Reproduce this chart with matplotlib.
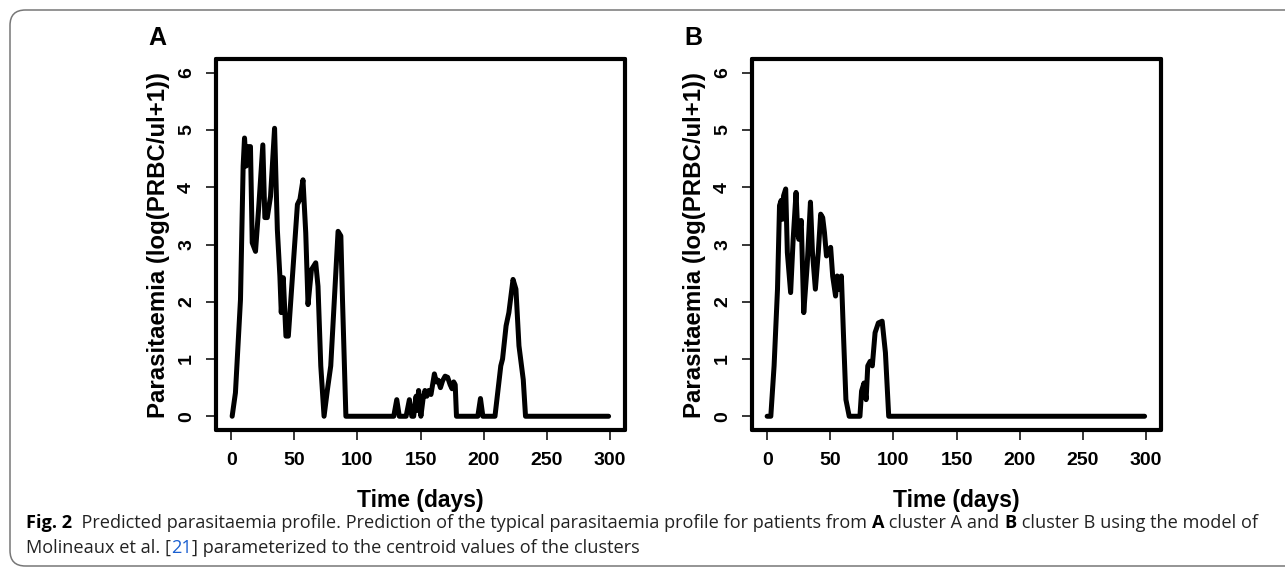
import numpy as np
import matplotlib
matplotlib.use("Agg")
import matplotlib.pyplot as plt
from matplotlib.patches import FancyBboxPatch

# -------------------- Data -------------------- #
# Panel A: cluster A, days vs log(PRBC/ul+1)
days_a = [0.8, 3.4, 7.4, 9.5, 10.6, 11.9, 13.5, 15.3, 16.7, 19.3, 21.9, 25.1, 26.7,
          28.6, 31.2, 34.4, 36.6, 38.6, 39.7, 41.3, 43.4, 45.3, 52.5, 54.5, 56.9,
          59.1, 60.9, 63.6, 67.0, 68.8, 71.0, 73.6, 76.3, 78.9, 84.7, 86.9, 88.2,
          90.9, 128.8, 131.2, 133.2, 138.6, 141.2, 143.1, 144.6, 146.5, 147.3,
          148.5, 150.3, 152.0, 153.5, 155.0, 156.5, 158.3, 161.0, 162.5, 164.0,
          165.8, 167.5, 169.5, 171.5, 173.5, 175.0, 176.3, 177.5, 178.5, 195.4,
          197.5, 199.4, 209.0, 213.6, 215.0, 217.8, 220.0, 223.3, 225.6, 228.0,
          231.4, 233.2, 299.0]
para_a = [0.0, 0.41, 2.04, 4.37, 4.86, 4.37, 4.71, 4.71, 3.03, 2.88, 3.67, 4.74, 3.47,
          3.47, 3.84, 5.03, 3.26, 2.45, 1.81, 2.42, 1.40, 1.40, 3.70, 3.79, 4.13,
          3.20, 1.95, 2.56, 2.68, 2.27, 0.88, 0.0, 0.47, 0.88, 3.23, 3.15, 2.04,
          0.0, 0.0, 0.29, 0.0, 0.0, 0.29, 0.0, 0.0, 0.35, 0.10,
          0.45, 0.0, 0.30, 0.45, 0.35, 0.45, 0.38, 0.74, 0.60, 0.63,
          0.50, 0.62, 0.70, 0.68, 0.55, 0.48, 0.60, 0.55, 0.0, 0.0,
          0.31, 0.0, 0.0, 0.88, 1.00, 1.58, 1.81, 2.39, 2.22, 1.23,
          0.64, 0.0, 0.0]

# Panel B: cluster B
days_b = [0.0, 2.9, 5.5, 8.2, 9.8, 11.1, 12.1, 13.0, 14.7, 16.0, 18.6, 20.6, 22.9,
          24.2, 25.1, 27.0, 29.0, 31.7, 34.3, 35.9, 38.2, 40.5, 42.4, 44.0, 45.4,
          47.0, 48.6, 50.3, 51.9, 54.2, 55.5, 56.8, 58.8, 60.4, 62.4, 65.0, 73.5,
          74.8, 76.7, 78.4, 79.7, 81.6, 83.3, 85.5, 88.1, 91.1, 93.7, 96.3, 299.0]
para_b = [0.0, 0.0, 0.88, 2.22, 3.68, 3.77, 3.44, 3.85, 3.97, 2.86, 2.16, 3.09, 3.91,
          3.21, 3.09, 3.42, 1.81, 2.63, 3.74, 2.86, 2.22, 2.86, 3.53, 3.47, 3.21,
          2.80, 2.86, 2.95, 2.45, 2.10, 2.45, 2.22, 2.45, 1.46, 0.29, 0.0, 0.0,
          0.44, 0.58, 0.29, 0.88, 0.96, 0.88, 1.46, 1.63, 1.66, 1.11, 0.0, 0.0]

x_ticks = [0, 50, 100, 150, 200, 250, 300]
y_ticks = [0, 1, 2, 3, 4, 5, 6]
panels = [("A", days_a, para_a), ("B", days_b, para_b)]

# -------------------- Figure -------------------- #
W, H = 1285, 569
fig = plt.figure(figsize=(W / 100, H / 100), dpi=100)
plt.rcParams["font.family"] = ["Liberation Sans", "DejaVu Sans"]

lefts = [216, 752]
ax_w, ax_top, ax_bot = 409, 59, 430

for left, (lab, xd, yd) in zip(lefts, panels):
    ax = fig.add_axes([left / W, 1 - ax_bot / H, ax_w / W, (ax_bot - ax_top) / H])
    ax.plot(xd, yd, color="black", lw=3.6, solid_joinstyle="round",
            solid_capstyle="round")
    ax.set_xlim(-12, 312)
    ax.set_ylim(-0.24, 6.24)
    ax.set_xticks(x_ticks)
    ax.set_yticks(y_ticks)
    ax.tick_params(length=7, width=1.1, pad=9, labelsize=14, direction="out")
    ax.tick_params(axis="y", pad=8)
    for t in ax.get_xticklabels() + ax.get_yticklabels():
        t.set_fontweight("bold")
    for t in ax.get_yticklabels():
        t.set_rotation(90)
        t.set_va("center")
    for s in ax.spines.values():
        s.set_linewidth(3.0)
        s.set_capstyle("round")
    ax.set_xlabel("Time (days)", fontsize=16.5, fontweight="bold", labelpad=14)
    ax.set_ylabel("Parasitaemia (log(PRBC/ul+1))", fontsize=17.3,
                  fontweight="bold", labelpad=6)
    fig.text((left - 59) / W, 1 - 38 / H, lab, fontsize=18, fontweight="bold",
             ha="center", va="center")

# -------------------- Frame -------------------- #
frame = FancyBboxPatch((10 / W, 1 - 566 / H), 1.1, (566 - 10) / H,
                       boxstyle="round,pad=0,rounding_size=0.012",
                       transform=fig.transFigure, fill=False,
                       edgecolor="#777777", lw=1.1, mutation_aspect=W / H)
fig.patches.append(frame)

# -------------------- Caption -------------------- #
cap_font = ["Open Sans", "DejaVu Sans"]
line1 = [("Fig. 2", "bold", "black"),
         ("  Predicted parasitaemia profile. Prediction of the typical parasitaemia "
          "profile for patients from ", "normal", "#222222"),
         ("A", "bold", "black"),
         (" cluster A and ", "normal", "#222222"),
         ("B", "bold", "black"),
         (" cluster B using the model of", "normal", "#222222")]
line2 = [("Molineaux et al. [", "normal", "#222222"),
         ("21", "normal", "#1a5fd0"),
         ("] parameterized to the centroid values of the clusters", "normal", "#222222")]

renderer = fig.canvas.get_renderer()


def draw_line(segments, y_px, size):
    x = 26
    for txt, wt, col in segments:
        t = fig.text(x / W, 1 - y_px / H, txt, fontsize=size, fontweight=wt,
                     color=col, family=cap_font, ha="left", va="center")
        bb = t.get_window_extent(renderer=renderer)
        x += bb.width
    return x


cap_size = 13.1
draw_line(line1, 523, cap_size)
draw_line(line2, 548, cap_size)

fig.savefig("out.png", dpi=100)
